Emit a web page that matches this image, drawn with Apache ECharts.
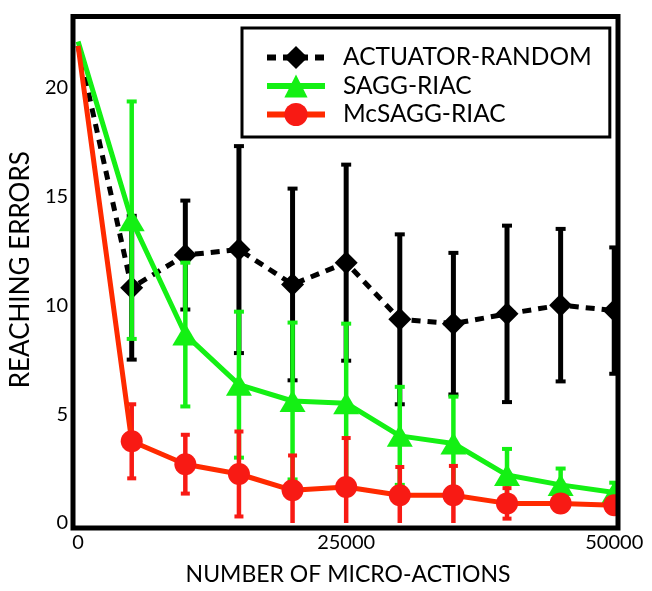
<!DOCTYPE html>
<html>
<head>
<meta charset="utf-8">
<script src="https://cdn.jsdelivr.net/npm/echarts@6/dist/echarts.min.js"></script>
<style>html,body{margin:0;padding:0;background:#fff;}#c{width:652px;height:591px;}</style>
</head>
<body>
<div id="c"></div>
<script>
const seriesNames = ['ACTUATOR-RANDOM', 'SAGG-RIAC', 'McSAGG-RIAC'];
const xValues = [0, 5000, 10000, 15000, 20000, 25000, 30000, 35000, 40000, 45000, 50000];
const randomMean = [21.9, 10.8, 12.3, 12.55, 10.95, 11.95, 9.35, 9.15, 9.6, 10.0, 9.75];
const randomErr  = [0, 3.3, 2.5, 4.75, 4.4, 4.5, 3.9, 3.25, 4.05, 3.5, 2.9];
const saggMean   = [22.1, 13.9, 8.65, 6.35, 5.6, 5.5, 4.0, 3.65, 2.2, 1.75, 1.4];
const saggErr    = [0, 5.45, 3.3, 3.35, 3.6, 3.65, 2.25, 2.15, 1.2, 0.75, 0.45];
const mcMean     = [21.9, 3.75, 2.7, 2.25, 1.5, 1.65, 1.27, 1.27, 0.9, 0.9, 0.82];
const mcErr      = [0, 1.7, 1.35, 1.95, 1.6, 2.25, 1.3, 1.35, 0.7, 0.35, 0.35];
const xTicks = [0, 25000, 50000];
const yTicks = [0, 5, 10, 15, 20];

const FONT = 'Lato';
const C_BLACK = '#000000', C_GREEN = '#14f014', C_RED_LINE = '#ff2a00', C_RED = '#f81a14';

function pts(mean) {
  return xValues.map((x, i) => i === 0 ? { value: [x, mean[i]], symbol: 'none' } : [x, mean[i]]);
}
function bars(mean, err) { return xValues.map((x, i) => [x, mean[i] - err[i], mean[i] + err[i]]); }

function errRender(color, lw, capW, capH) {
  return function (params, api) {
    const x = api.value(0), lo = api.value(1), hi = api.value(2);
    if (hi - lo <= 0) return null;
    const loC = Math.max(lo, 0);
    const pH = api.coord([x, hi]);
    const pL = api.coord([x, loC]);
    const ch = [
      { type: 'line', shape: { x1: pH[0], y1: pH[1], x2: pL[0], y2: pL[1] }, style: { stroke: color, lineWidth: lw } },
      { type: 'rect', shape: { x: pH[0] - capW / 2, y: pH[1] - capH / 2, width: capW, height: capH }, style: { fill: color } }
    ];
    if (lo >= 0) ch.push({ type: 'rect', shape: { x: pL[0] - capW / 2, y: pL[1] - capH / 2, width: capW, height: capH }, style: { fill: color } });
    return { type: 'group', children: ch };
  };
}

const G = { left: 72, top: 16.5, width: 546, height: 511.5 };
const FRAME = { x: 73, y: 16.5, width: 545, height: 511.5 };

const chart = echarts.init(document.getElementById('c'), null, { renderer: 'canvas' });
chart.setOption({
  animation: false,
  backgroundColor: '#fff',
  textStyle: { fontFamily: FONT, color: '#000' },
  grid: { left: G.left, top: G.top, width: G.width, height: G.height, show: false },
  xAxis: {
    type: 'value', min: 0, max: 50350,
    name: 'NUMBER OF MICRO-ACTIONS', nameLocation: 'middle', nameGap: 40,
    nameTextStyle: { fontFamily: FONT, fontSize: 23, color: '#000' },
    axisLine: { show: false }, axisTick: { show: false }, splitLine: { show: false },
    axisLabel: { customValues: xTicks, formatter: v => String(v), fontFamily: FONT, fontSize: 20, color: '#000', margin: 10 }
  },
  yAxis: {
    type: 'value', min: 0, max: 23.25,
    name: 'REACHING ERRORS', nameLocation: 'middle', nameGap: 36,
    nameTextStyle: { fontFamily: FONT, fontSize: 26, color: '#000' },
    axisLine: { show: false }, axisTick: { show: false }, splitLine: { show: false },
    axisLabel: { customValues: yTicks, formatter: v => String(v), fontFamily: FONT, fontSize: 20, color: '#000', margin: 10 }
  },
  legend: {
    data: seriesNames,
    orient: 'vertical', left: 242, top: 28,
    backgroundColor: '#fff',
    borderColor: '#000', borderWidth: 3,
    padding: [17, 18, 10, 22],
    itemWidth: 58, itemHeight: 29, itemGap: 3.5,
    lineStyle: { width: 6 },
    textStyle: { fontFamily: FONT, fontSize: 24.5, color: '#000', padding: [0, 0, 0, 13] }
  },
  graphic: [
    { type: 'rect', z: 99, silent: true,
      shape: { x: FRAME.x + FRAME.width, y: 0, width: 40, height: FRAME.y + FRAME.height + 2 },
      style: { fill: '#fff' } },
    { type: 'rect', z: 100, silent: true,
      shape: { x: FRAME.x, y: FRAME.y, width: FRAME.width, height: FRAME.height },
      style: { fill: 'none', stroke: '#000', lineWidth: 5 } }
  ],
  series: [
    { type: 'custom', name: 'randomErr', z: 2, renderItem: errRender(C_BLACK, 5, 10, 4), data: bars(randomMean, randomErr), encode: { x: 0, y: [1, 2] } },
    { type: 'line', name: seriesNames[0], z: 2, data: pts(randomMean), symbol: 'diamond', symbolSize: 23,
      lineStyle: { color: C_BLACK, width: 5, type: [9, 7] }, itemStyle: { color: C_BLACK } },
    { type: 'custom', name: 'saggErr', z: 3, renderItem: errRender(C_GREEN, 4.5, 10, 4), data: bars(saggMean, saggErr), encode: { x: 0, y: [1, 2] } },
    { type: 'line', name: seriesNames[1], z: 3, data: pts(saggMean), symbol: 'triangle', symbolSize: [26, 22],
      lineStyle: { color: C_GREEN, width: 5 }, itemStyle: { color: C_GREEN } },
    { type: 'custom', name: 'mcErr', z: 4, renderItem: errRender(C_RED, 4.5, 9, 4), data: bars(mcMean, mcErr), encode: { x: 0, y: [1, 2] } },
    { type: 'line', name: seriesNames[2], z: 4, data: pts(mcMean), symbol: 'circle', symbolSize: 22,
      lineStyle: { color: C_RED_LINE, width: 5 }, itemStyle: { color: C_RED } }
  ]
});
</script>
</body>
</html>
